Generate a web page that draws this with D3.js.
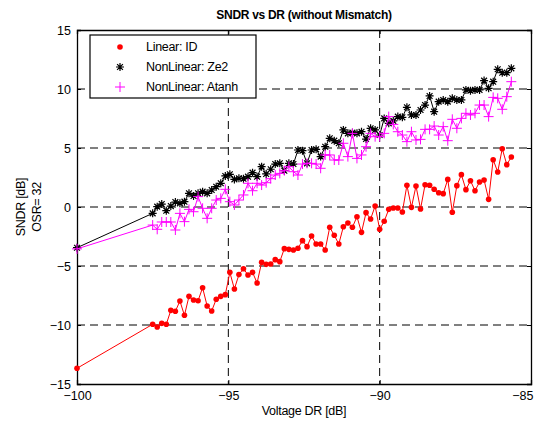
<!DOCTYPE html>
<html><head><meta charset="utf-8">
<script src="https://cdn.jsdelivr.net/npm/d3@7"></script>
<style>
html,body{margin:0;padding:0;background:#fff;}
svg text{font-family:"Liberation Sans",Arial,sans-serif;}
</style></head>
<body><svg id="c" width="539" height="421"></svg>
<script>
const titleText = "SNDR vs DR (without Mismatch)";
const xLabel = "Voltage DR [dB]";
const yLabelLines = ["SNDR [dB]", "OSR= 32"];
const xTicks = [-100, -95, -90, -85];
const yTicks = [-15, -10, -5, 0, 5, 10, 15];
const seriesNames = ["Linear: ID", "NonLinear: Ze2", "NonLinear: Atanh"];

const dr = [-100,
-97.5,-97.35,-97.2,-97.05,-96.9,-96.75,-96.6,-96.45,-96.3,-96.15,
-96,-95.85,-95.7,-95.55,-95.4,-95.25,-95.1,-94.95,-94.8,-94.65,
-94.5,-94.35,-94.2,-94.05,-93.9,-93.75,-93.6,-93.45,-93.3,-93.15,
-93,-92.85,-92.7,-92.55,-92.4,-92.25,-92.1,-91.95,-91.8,-91.65,
-91.5,-91.35,-91.2,-91.05,-90.9,-90.75,-90.6,-90.45,-90.3,-90.15,
-90,-89.85,-89.7,-89.55,-89.4,-89.25,-89.1,-88.95,-88.8,-88.65,
-88.5,-88.35,-88.2,-88.05,-87.9,-87.75,-87.6,-87.45,-87.3,-87.15,
-87,-86.85,-86.7,-86.55,-86.4,-86.25,-86.1,-85.95,-85.8,-85.65];

const linearID = [-13.67,
-9.94,-10.17,-9.86,-9.94,-8.76,-8.84,-7.97,-9.18,-7.57,-7.88,
-7.94,-6.84,-8.39,-8.81,-7.82,-7.57,-7.43,-5.54,-6.95,-5.73,
-5.23,-5.76,-5.54,-6.44,-4.69,-4.86,-4.83,-4.46,-4.63,-3.53,
-3.59,-3.64,-3.50,-2.85,-3.36,-2.46,-3.14,-3.14,-3.64,-1.72,
-2.40,-3.14,-1.67,-1.36,-1.72,-0.82,-2.15,-0.48,-1.02,0.08,
-1.89,-1.21,-0.20,-0.08,-0.08,-0.42,1.84,-0.03,1.78,-0.17,
1.89,1.84,1.50,1.21,1.13,2.34,-0.45,1.81,2.74,1.47,
2.23,1.38,2.12,2.29,0.65,4.01,2.97,4.94,3.59,4.24];

const nonlinZe2 = [-3.45,
-0.54,0.03,0.25,-0.31,0.08,0.42,0.31,0.45,1.16,0.93,
1.16,1.30,1.16,1.44,1.72,2.01,2.63,2.77,2.34,2.43,
2.40,2.57,2.91,2.57,3.42,2.80,3.20,3.64,3.70,3.08,
3.70,3.64,4.83,4.77,3.70,4.83,4.89,4.27,5.11,5.82,
5.62,5.40,6.53,6.24,6.30,6.24,6.38,5.76,6.67,6.53,
6.10,7.51,7.09,7.30,7.66,7.60,8.45,7.80,7.80,8.22,
8.64,9.41,8.08,8.93,9.07,8.93,9.21,9.07,9.07,9.92,
9.86,9.92,9.92,10.71,10.06,10.62,11.67,11.38,11.38,11.75];

const nonlinAtanh = [-3.55,
-1.53,-1.89,-1.27,-1.27,-1.27,-1.95,-0.54,-1.24,-0.20,-0.40,
0.88,-0.11,-0.96,-0.11,0.59,0.73,1.50,0.45,0.17,0.59,
1.02,2.01,1.38,2.01,1.86,2.06,2.40,2.71,2.85,3.08,
3.42,2.99,2.71,3.64,3.70,3.70,3.64,3.28,4.41,4.41,
3.98,3.98,5.40,4.27,6.24,4.12,4.41,5.11,6.24,5.96,
5.96,6.24,7.66,7.00,6.38,6.10,5.54,6.38,5.68,5.73,
6.58,6.58,6.86,6.10,6.81,5.62,7.43,6.67,7.51,7.94,
7.80,7.94,8.64,8.64,7.66,9.29,9.21,8.28,9.35,10.62];

const colors = ["#ff0000", "#000000", "#ff00ff"];
const markers = ["dot", "star", "plus"];
const seriesValues = [linearID, nonlinZe2, nonlinAtanh];

const svg = d3.select("#c");
const L = 77, R = 531, T = 30, B = 384;
const x = d3.scaleLinear().domain([-100, -85]).range([L, R]);
const y = d3.scaleLinear().domain([-15, 15]).range([B, T]);

// grid
const g = svg.append("g");
g.selectAll(".gx").data(xTicks.filter(v => v > -100 && v < -85)).enter().append("line")
  .attr("x1", d => x(d)).attr("x2", d => x(d)).attr("y1", T).attr("y2", B)
  .attr("stroke", "#000").attr("stroke-width", 1).attr("stroke-dasharray", "8,5");
g.selectAll(".gy").data(yTicks.filter(v => v > -15 && v < 15)).enter().append("line")
  .attr("y1", d => y(d)).attr("y2", d => y(d)).attr("x1", L).attr("x2", R)
  .attr("stroke", "#000").attr("stroke-width", 1).attr("stroke-dasharray", "8,5");

// axes
const xAxis = d3.axisBottom(x).tickValues(xTicks).tickSize(-4).tickPadding(7).tickFormat(d3.format("d"));
const yAxis = d3.axisLeft(y).tickValues(yTicks).tickSize(-4).tickPadding(6).tickFormat(d3.format("d"));
const xa = svg.append("g").attr("transform", `translate(0,${B})`).call(xAxis);
const ya = svg.append("g").attr("transform", `translate(${L},0)`).call(yAxis);
const xaTop = svg.append("g").attr("transform", `translate(0,${T})`).call(d3.axisTop(x).tickValues(xTicks).tickSize(-4).tickFormat(""));
const yaRight = svg.append("g").attr("transform", `translate(${R},0)`).call(d3.axisRight(y).tickValues(yTicks).tickSize(-4).tickFormat(""));
[xa, ya, xaTop, yaRight].forEach(a => {
  a.select(".domain").attr("stroke", "#000").attr("stroke-width", 1.3);
  a.selectAll(".tick line").attr("stroke", "#000");
  a.selectAll("text").attr("font-size", "12.5px").attr("fill", "#000").attr("font-family", "Liberation Sans, Arial, sans-serif");
});
// last x tick label sits flush against the right frame edge
xa.selectAll(".tick text").filter(d => d === -85).attr("text-anchor", "end").attr("dx", "2px");

// series
const starPath = "M-4,0L4,0M0,-4L0,4M-2.9,-2.9L2.9,2.9M-2.9,2.9L2.9,-2.9";
const plusPath = "M-5,0L5,0M0,-5L0,5";
function drawMarker(sel, kind, color) {
  if (kind === "dot") {
    sel.append("circle").attr("r", 2.8).attr("fill", color);
  } else if (kind === "star") {
    sel.append("path").attr("d", starPath).attr("stroke", color).attr("stroke-width", 1.2).attr("fill", "none");
  } else {
    sel.append("path").attr("d", plusPath).attr("stroke", color).attr("stroke-width", 1).attr("fill", "none");
  }
}
const line = d3.line().x(d => x(d[0])).y(d => y(d[1]));
[0, 1, 2].forEach(si => {
  const pts = dr.map((v, i) => [v, seriesValues[si][i]]);
  svg.append("path").datum(pts).attr("d", line).attr("fill", "none")
    .attr("stroke", colors[si]).attr("stroke-width", 1);
  const m = svg.append("g").selectAll("g").data(pts).enter().append("g")
    .attr("transform", d => `translate(${x(d[0])},${y(d[1])})`);
  drawMarker(m, markers[si], colors[si]);
});

// legend
const lg = svg.append("g");
lg.append("rect").attr("x", 90).attr("y", 35).attr("width", 166).attr("height", 63)
  .attr("fill", "#fff").attr("stroke", "#000").attr("stroke-width", 1.2);
seriesNames.forEach((n, i) => {
  const yy = 47 + i * 20;
  const mg = lg.append("g").attr("transform", `translate(120,${yy})`);
  drawMarker(mg, markers[i], colors[i]);
  lg.append("text").attr("x", 146).attr("y", yy).attr("dy", "0.35em")
    .attr("font-size", "12.5px").attr("fill", "#000").attr("letter-spacing", "-0.3px").text(n);
});

// labels
svg.append("text").attr("x", 304).attr("y", 15).attr("dy", "0.35em").attr("text-anchor", "middle")
  .attr("font-size", "12px").attr("font-weight", "bold").attr("letter-spacing", "-0.3px").text(titleText);
svg.append("text").attr("x", 304).attr("y", 411).attr("dy", "0.35em").attr("text-anchor", "middle")
  .attr("font-size", "12.5px").attr("letter-spacing", "-0.3px").text(xLabel);
yLabelLines.forEach((t, i) => {
  svg.append("text").attr("transform", `translate(${21 + i * 16},207) rotate(-90)`)
    .attr("dy", "0.35em").attr("text-anchor", "middle").attr("font-size", "12.5px")
    .attr("letter-spacing", "-0.3px").text(t);
});
</script></body></html>
